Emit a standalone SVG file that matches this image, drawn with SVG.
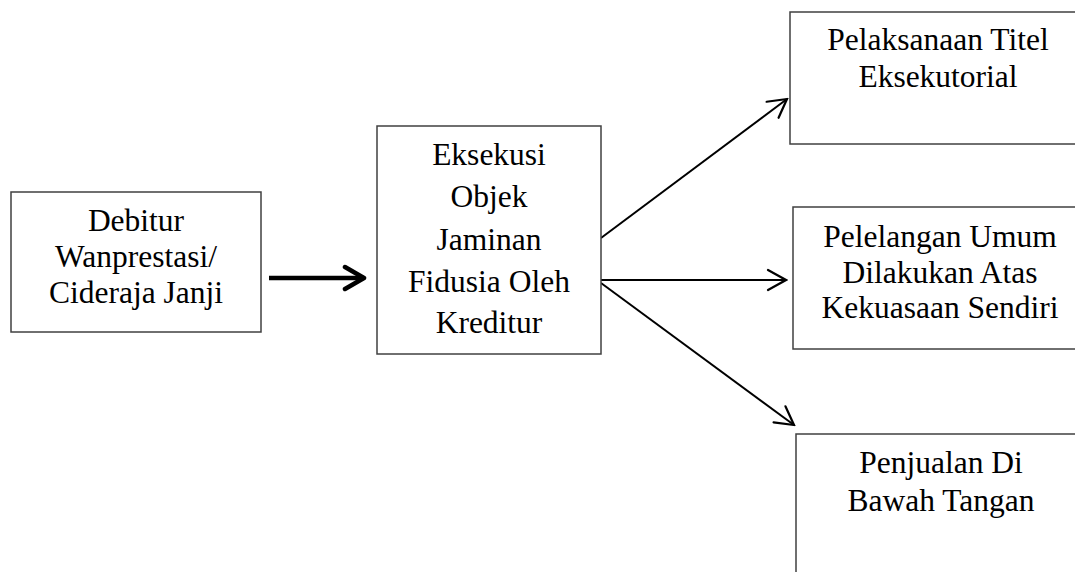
<svg xmlns="http://www.w3.org/2000/svg" width="1075" height="572" viewBox="0 0 1075 572">
<style>
.box{fill:#fff;stroke:#404040;stroke-width:1.5}
.t{font-family:"Liberation Serif","Times New Roman",serif;font-size:31.5px;fill:#000;text-anchor:middle}
.c{stroke:#000;stroke-width:2;fill:none}
.ct{stroke:#000;stroke-width:4.5;fill:none}
</style>
<defs>
<marker id="ah" viewBox="0 0 22 24" refX="20" refY="12" markerWidth="22" markerHeight="24" markerUnits="userSpaceOnUse" orient="auto">
<path d="M2,2 L20,12 L2,22" fill="none" stroke="#000" stroke-width="2.2" stroke-linecap="round" stroke-linejoin="miter"/>
</marker>
<marker id="ahb" viewBox="0 0 26 28" refX="22" refY="14" markerWidth="26" markerHeight="28" markerUnits="userSpaceOnUse" orient="auto">
<path d="M3,3 L22,14 L3,25" fill="none" stroke="#000" stroke-width="4.5" stroke-linecap="round" stroke-linejoin="round"/>
</marker>
</defs>
<rect width="1075" height="572" fill="#fff"/>
<g id="connectors">
<line class="ct" x1="269" y1="278" x2="364" y2="278" marker-end="url(#ahb)"/>
<line class="c" x1="601" y1="238" x2="787" y2="99" marker-end="url(#ah)"/>
<line class="c" x1="601" y1="280" x2="786" y2="280" marker-end="url(#ah)"/>
<line class="c" x1="601" y1="283" x2="794" y2="425" marker-end="url(#ah)"/>
</g>
<g id="debitur">
<rect class="box" x="11" y="192" width="250" height="140"/>
<text class="t" x="136" y="231">Debitur</text>
<text class="t" x="136" y="267">Wanprestasi/</text>
<text class="t" x="136" y="303">Cideraja Janji</text>
</g>
<g id="eksekusi">
<rect class="box" x="377" y="126" width="224" height="228"/>
<text class="t" x="489" y="165">Eksekusi</text>
<text class="t" x="489" y="207">Objek</text>
<text class="t" x="489" y="250">Jaminan</text>
<text class="t" x="489" y="292">Fidusia Oleh</text>
<text class="t" x="489" y="333">Kreditur</text>
</g>
<g id="pelaksanaan">
<rect class="box" x="790" y="12" width="300" height="132"/>
<text class="t" x="938" y="50">Pelaksanaan Titel</text>
<text class="t" x="938" y="87">Eksekutorial</text>
</g>
<g id="pelelangan">
<rect class="box" x="793" y="207" width="300" height="142"/>
<text class="t" x="940" y="247">Pelelangan Umum</text>
<text class="t" x="940" y="283">Dilakukan Atas</text>
<text class="t" x="940" y="318">Kekuasaan Sendiri</text>
</g>
<g id="penjualan">
<rect class="box" x="796" y="434" width="300" height="160"/>
<text class="t" x="941" y="473">Penjualan Di</text>
<text class="t" x="941" y="511">Bawah Tangan</text>
</g>
</svg>
